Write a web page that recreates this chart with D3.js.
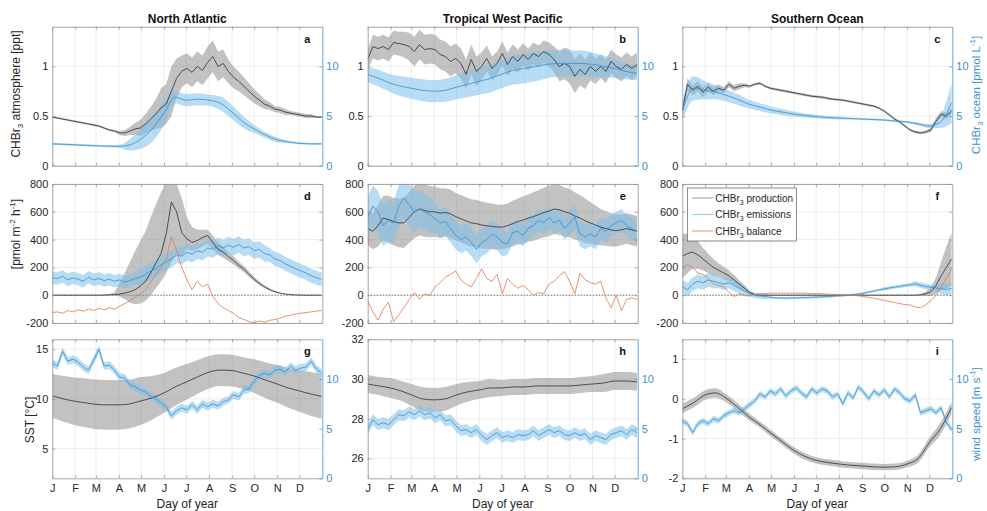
<!DOCTYPE html>
<html><head><meta charset="utf-8">
<script src="https://cdn.jsdelivr.net/npm/d3@7"></script>
<style>
body{margin:0;background:#fff}
svg text{font-family:"Liberation Sans",Arial,Helvetica,sans-serif}
</style>
</head><body>
<svg id="chart" width="987" height="511"></svg>
<script>
// ---------- x categories ----------
const monthLabels = ["J","F","M","A","M","J","J","A","S","O","N","D"];
const monthStart  = [1,32,60,91,121,152,182,213,244,274,305,335];
// weekly sampling days
const dayW = [1,8,15,22,29,36,43,50,57,64,71,78,85,92,99,106,113,120,127,134,141,148,155,162,169,176,183,190,197,204,211,218,225,232,239,246,253,260,267,274,281,288,295,302,309,316,323,330,337,344,351,358,365];
// semi-monthly sampling days
const dayS = [1,16,32,46,60,75,91,106,121,136,152,167,182,197,213,228,244,259,274,289,305,320,335,350,365];

// ---------- a: North Atlantic, concentrations ----------
const aAtm   = [0.49,0.48,0.47,0.46,0.45,0.44,0.43,0.42,0.41,0.40,0.38,0.36,0.35,0.33,0.33,0.35,0.37,0.38,0.42,0.47,0.52,0.58,0.62,0.75,0.88,0.95,0.98,0.94,1.0,0.96,1.04,1.1,1.0,1.03,0.95,0.89,0.85,0.8,0.75,0.7,0.66,0.62,0.6,0.57,0.56,0.54,0.53,0.52,0.51,0.5,0.5,0.49,0.49];
const aAtmSd = [0.01,0.01,0.01,0.01,0.01,0.01,0.01,0.01,0.01,0.01,0.01,0.01,0.01,0.02,0.03,0.04,0.06,0.08,0.1,0.12,0.15,0.2,0.2,0.25,0.2,0.16,0.15,0.15,0.15,0.15,0.16,0.16,0.15,0.14,0.12,0.11,0.1,0.09,0.08,0.07,0.06,0.05,0.04,0.03,0.03,0.03,0.02,0.02,0.02,0.02,0.02,0.01,0.01];
const aOcean   = [2.2,2.15,2.1,2.05,2.0,1.97,1.95,2.1,2.7,3.7,5.3,6.9,6.6,6.7,6.6,6.3,5.4,4.4,3.7,3.1,2.6,2.4,2.25,2.2,2.2];
const aOceanSd = [0.1,0.1,0.1,0.1,0.1,0.1,0.15,0.6,1.0,1.3,1.2,0.6,0.6,0.6,0.55,0.7,0.7,0.6,0.4,0.3,0.25,0.15,0.1,0.1,0.1];

// ---------- b: Tropical West Pacific, concentrations ----------
const bAtm   = [1.07,1.2,1.18,1.2,1.17,1.24,1.23,1.22,1.2,1.15,1.22,1.17,1.18,1.17,1.12,1.1,1.05,1.08,1.03,0.92,1.07,0.95,1.0,1.08,0.98,1.03,1.13,1.02,1.1,1.05,1.12,1.07,1.13,1.1,1.15,1.12,1.07,1.0,1.03,1.0,0.9,0.97,0.92,1.0,0.95,1.0,0.95,1.05,1.0,0.97,1.02,0.98,1.02];
const bAtmSd = [0.1,0.12,0.12,0.12,0.12,0.12,0.12,0.13,0.14,0.15,0.15,0.15,0.15,0.15,0.15,0.15,0.15,0.15,0.15,0.15,0.15,0.15,0.14,0.13,0.12,0.12,0.12,0.12,0.12,0.12,0.11,0.11,0.11,0.11,0.11,0.12,0.13,0.15,0.16,0.17,0.17,0.16,0.15,0.14,0.13,0.12,0.12,0.12,0.12,0.12,0.12,0.12,0.12];
const bOcean   = [9.2,8.8,8.3,8.0,7.8,7.6,7.5,7.6,7.9,8.2,8.5,8.8,9.2,9.6,9.8,10.0,10.2,10.3,10.3,10.3,10.2,10.0,9.8,9.5,9.3];
const bOceanSd = [0.8,0.85,0.9,1.0,1.05,1.1,1.1,1.15,1.2,1.3,1.35,1.4,1.4,1.45,1.5,1.5,1.4,1.35,1.3,1.3,1.2,1.1,0.95,0.8,0.7];

// ---------- c: Southern Ocean, concentrations ----------
const cAtm   = [0.55,0.82,0.76,0.8,0.74,0.79,0.75,0.78,0.76,0.82,0.78,0.8,0.81,0.8,0.82,0.83,0.8,0.78,0.77,0.76,0.75,0.74,0.73,0.72,0.71,0.70,0.695,0.69,0.68,0.67,0.665,0.66,0.65,0.64,0.63,0.62,0.61,0.6,0.58,0.55,0.51,0.47,0.44,0.4,0.36,0.34,0.33,0.34,0.36,0.45,0.52,0.5,0.55];
const cAtmSd = [0.03,0.06,0.05,0.05,0.05,0.04,0.04,0.04,0.03,0.03,0.03,0.03,0.02,0.012,0.012,0.012,0.012,0.012,0.012,0.012,0.012,0.012,0.012,0.012,0.012,0.012,0.012,0.012,0.012,0.012,0.012,0.012,0.012,0.012,0.012,0.012,0.012,0.012,0.012,0.012,0.012,0.012,0.012,0.012,0.012,0.012,0.012,0.015,0.02,0.03,0.03,0.03,0.03];
const cOcean   = [5.5,7.8,7.6,7.4,7.1,6.7,6.2,5.9,5.6,5.4,5.2,5.05,4.95,4.85,4.8,4.75,4.7,4.65,4.6,4.5,4.4,4.2,4.0,4.4,6.3];
const cOceanSd = [1.0,1.2,0.9,0.7,0.6,0.55,0.45,0.4,0.35,0.3,0.25,0.2,0.2,0.15,0.15,0.1,0.1,0.1,0.1,0.1,0.1,0.15,0.2,0.6,2.0];

// ---------- d: North Atlantic, fluxes ----------
const dProd   = [0,0,0,0,0,0,0,0,0,0,1,2,4,8,15,25,40,65,100,160,230,300,440,670,600,450,405,380,393,415,430,380,330,310,277,250,215,188,150,115,85,60,40,25,15,8,4,2,1,0,0,0,0];
const dProdLo = [0,0,0,0,0,0,0,0,0,0,0,0,0,-10,-30,-55,-65,-60,-40,0,50,100,160,240,300,280,330,320,330,350,370,330,290,270,245,220,190,165,130,100,72,50,32,20,12,6,3,1,0,0,0,0,0];
const dProdHi = [0,0,0,0,0,0,0,0,0,0,3,8,20,90,160,240,320,390,460,560,650,740,810,830,800,700,560,490,470,470,470,430,380,350,310,280,240,210,170,130,98,70,48,30,18,10,5,2,1,0,0,0,0];
const dEmis   = [125,120,135,110,125,115,100,130,110,120,105,115,100,110,95,105,120,130,150,175,190,220,240,260,290,280,310,295,320,310,340,330,355,340,360,345,365,340,350,320,330,300,290,260,250,225,210,190,175,160,140,125,115];
const dEmisSd = [45,45,45,45,45,45,45,45,45,45,45,45,45,45,45,45,45,60,60,60,60,60,60,60,60,60,60,60,60,60,60,60,60,60,60,60,60,60,60,60,60,60,50,50,50,50,50,50,50,50,50,50,50];
const dBal    = [-125,-120,-130,-110,-120,-105,-115,-100,-110,-95,-105,-90,-100,-80,-60,-40,-15,10,40,90,150,200,260,420,320,200,110,40,100,60,80,-10,-60,-90,-110,-130,-160,-175,-190,-200,-185,-195,-180,-175,-165,-150,-145,-135,-130,-125,-120,-115,-110];

// ---------- e: Tropical West Pacific, fluxes ----------
const eProd   = [480,460,500,555,545,530,520,520,560,600,620,610,600,600,590,595,585,565,550,535,520,515,505,500,495,490,490,500,515,530,540,555,565,580,595,605,620,615,600,590,570,555,535,520,505,490,480,470,465,470,480,470,460];
const eProdSd = [120,130,150,160,170,170,175,180,185,190,190,190,185,180,180,175,175,170,170,170,170,170,170,165,165,160,160,160,165,165,170,170,175,175,180,180,180,180,175,175,170,165,160,150,140,130,125,120,115,110,110,110,110];
const eEmis   = [560,640,600,500,540,520,640,700,650,600,620,600,580,550,520,530,480,430,400,420,380,330,380,400,440,420,380,370,450,460,430,480,500,540,520,560,520,540,480,520,560,440,420,440,420,480,460,500,520,540,500,480,460];
const eEmisSd = [150,150,150,150,150,150,150,150,150,150,130,130,130,100,100,100,100,100,100,100,100,100,100,100,100,100,100,80,80,80,80,80,80,80,80,80,80,80,80,90,90,90,90,90,90,80,80,80,80,80,80,80,80];
const eBal    = [-40,-120,-180,-100,-50,-190,-140,-90,-30,20,-30,10,0,60,90,130,150,175,110,80,60,120,190,120,100,150,10,120,80,50,70,40,0,20,10,80,100,140,170,100,10,160,110,90,80,100,-20,-90,0,-110,-30,-20,-30];

// ---------- f: Southern Ocean, fluxes ----------
const fProd   = [280,300,310,290,260,230,200,180,160,140,110,80,50,20,5,0,0,0,0,0,0,0,0,0,0,0,0,0,0,0,0,0,0,0,0,0,0,0,0,0,0,0,0,0,0,0,3,10,25,70,140,200,260];
const fProdSd = [160,140,120,100,80,70,60,50,45,40,35,30,20,10,5,0,0,0,0,0,0,0,0,0,0,0,0,0,0,0,0,0,0,0,0,0,0,0,0,0,0,0,0,0,0,2,5,15,30,60,100,150,190];
const fEmis   = [60,40,80,100,90,110,100,90,80,90,70,50,30,10,0,-5,-10,-15,-20,-20,-22,-20,-20,-18,-17,-15,-14,-12,-10,-8,-5,-3,0,3,8,15,22,30,38,45,52,58,63,70,75,82,72,62,57,52,46,42,48];
const fEmisSd = [50,50,50,50,50,50,50,40,40,40,40,40,40,20,20,20,20,8,8,8,8,8,8,8,8,8,8,8,8,8,8,8,8,8,8,8,8,8,8,12,12,12,12,12,12,20,20,20,20,20,40,40,40];
const fBal    = [200,220,200,160,150,120,80,70,60,20,-10,10,0,-5,5,10,12,15,15,15,15,15,15,14,13,12,11,10,8,6,5,3,1,-2,-5,-10,-15,-22,-30,-38,-45,-52,-60,-68,-70,-85,-90,-70,-40,0,60,120,190];

// ---------- g, h, i: SST and wind speed ----------
const gSst    = [10.3,10.0,9.75,9.6,9.45,9.4,9.4,9.5,9.8,10.1,10.6,11.2,11.7,12.2,12.7,12.9,12.85,12.6,12.3,11.9,11.5,11.1,10.8,10.5,10.25];
const gSstSd  = [2.2,2.3,2.4,2.45,2.5,2.5,2.5,2.45,2.4,2.2,2.0,1.9,1.8,1.7,1.65,1.6,1.6,1.6,1.7,1.8,1.9,2.0,2.1,2.2,2.25];
const gWind   = [11.6,11.3,12.8,11.8,12.0,11.7,11.2,10.9,11.9,13.0,11.3,11.4,10.9,10.2,10.1,9.4,9.2,8.9,8.7,8.3,8.0,7.6,7.2,6.3,6.8,7.1,6.9,7.4,6.9,7.5,7.2,7.5,7.3,7.7,7.9,8.4,8.2,8.9,9.0,9.8,10.4,10.6,10.4,10.9,11.0,10.7,11.3,10.9,11.1,11.2,11.8,11.0,10.6];
const gWindSd = 0.4;
const hSst    = [29.75,29.65,29.55,29.4,29.2,29.0,28.95,29.0,29.2,29.35,29.45,29.55,29.55,29.6,29.6,29.65,29.65,29.65,29.65,29.7,29.75,29.8,29.9,29.9,29.85];
const hSstSd  = [0.45,0.45,0.5,0.5,0.55,0.6,0.6,0.6,0.55,0.5,0.45,0.45,0.4,0.4,0.4,0.4,0.4,0.4,0.4,0.4,0.4,0.45,0.45,0.45,0.45];
const hWind   = [4.9,5.9,5.4,5.6,5.4,5.9,6.4,6.3,6.7,6.4,6.8,6.4,6.6,6.1,6.4,5.8,5.9,5.3,4.8,4.9,4.6,4.9,4.3,3.9,4.3,4.6,4.1,4.3,4.1,4.4,4.3,4.4,4.8,4.3,4.6,4.9,4.6,4.8,4.4,4.3,4.6,4.3,4.5,3.9,4.3,4.1,3.9,4.4,4.6,4.8,4.4,4.9,4.6];
const hWindSd = 0.55;
const iSst    = [-0.25,-0.1,0.1,0.15,0.02,-0.2,-0.45,-0.65,-0.87,-1.08,-1.3,-1.45,-1.55,-1.6,-1.64,-1.67,-1.69,-1.71,-1.72,-1.71,-1.64,-1.5,-1.1,-0.75,-0.22];
const iSstSd  = [0.12,0.12,0.12,0.12,0.1,0.1,0.09,0.08,0.08,0.08,0.08,0.08,0.08,0.08,0.08,0.08,0.08,0.08,0.08,0.08,0.08,0.1,0.12,0.15,0.15];
const iWind   = [5.8,5.5,4.6,5.5,5.8,5.5,6.0,5.8,6.3,6.6,6.8,6.6,7.0,7.4,7.8,8.5,8.2,8.8,8.5,9.0,8.3,8.8,9.1,8.6,8.2,9.0,8.6,9.0,8.8,8.2,8.5,7.5,8.6,8.1,9.2,8.7,8.0,8.8,8.4,8.9,8.2,9.0,8.6,8.0,7.8,8.4,6.6,6.8,7.0,6.6,7.1,5.6,5.0];
const iWindSd = 0.3;

// ---------- tick labels ----------
const concTicksL = [0,0.5,1], concTicksR = [0,5,10];
const fluxTicks = [-200,0,200,400,600,800];
const windTicks = [0,5,10];
const regionTitles = ["North Atlantic","Tropical West Pacific","Southern Ocean"];
const legendLabels = ["production","emissions","balance"];

// ---------- styles ----------
const C = {
  line:'#383838', band:'#8a8a8a', blue:'#3d91cd', blueBand:'#7cc0ea', orange:'#e27f58',
  grid:'#e9e9e9', axis:'#8f8f8f', text:'#262626'
};
const W = 987, H = 511;
const colX = [52.3, 367.7, 682.3], rowY = [26.7, 184, 339.3], PW = 270, PH = 139;
const svg = d3.select('#chart');
const defs = svg.append('defs');

function S(days, mean, sd, axis, kind, opt){ return Object.assign({days, mean, sd, axis, kind}, opt||{}); }

const panels = [
  {col:0,row:0,letter:'a',left:[0,1.4],lt:concTicksL,right:[0,14],rt:concTicksR,series:[
    S(dayW,aAtm,aAtmSd,'L','gray'), S(dayS,aOcean,aOceanSd,'R','blue',{smooth:true})]},
  {col:1,row:0,letter:'b',left:[0,1.4],lt:concTicksL,right:[0,14],rt:concTicksR,series:[
    S(dayW,bAtm,bAtmSd,'L','gray'), S(dayS,bOcean,bOceanSd,'R','blue',{smooth:true})]},
  {col:2,row:0,letter:'c',left:[0,1.4],lt:concTicksL,right:[0,14],rt:concTicksR,series:[
    S(dayW,cAtm,cAtmSd,'L','gray'), S(dayS,cOcean,cOceanSd,'R','blue',{smooth:true})]},
  {col:0,row:1,letter:'d',left:[-200,800],lt:fluxTicks,zero:true,series:[
    S(dayW,dProd,null,'L','gray',{lo:dProdLo,hi:dProdHi}), S(dayW,dEmis,dEmisSd,'L','blue'), S(dayW,dBal,null,'L','orange')]},
  {col:1,row:1,letter:'e',left:[-200,800],lt:fluxTicks,zero:true,series:[
    S(dayW,eProd,eProdSd,'L','gray'), S(dayW,eEmis,eEmisSd,'L','blue'), S(dayW,eBal,null,'L','orange')]},
  {col:2,row:1,letter:'f',left:[-200,800],lt:fluxTicks,zero:true,legend:true,series:[
    S(dayW,fProd,fProdSd,'L','gray'), S(dayW,fEmis,fEmisSd,'L','blue'), S(dayW,fBal,null,'L','orange')]},
  {col:0,row:2,letter:'g',left:[2,16],lt:[5,10,15],right:[0,14],rt:windTicks,xlab:true,series:[
    S(dayS,gSst,gSstSd,'L','gray',{smooth:true}), S(dayW,gWind,gWindSd,'R','blue')]},
  {col:1,row:2,letter:'h',left:[25,32],lt:[26,28,30,32],right:[0,14],rt:windTicks,xlab:true,series:[
    S(dayS,hSst,hSstSd,'L','gray',{smooth:true}), S(dayW,hWind,hWindSd,'R','blue')]},
  {col:2,row:2,letter:'i',left:[-2,1.5],lt:[-2,-1,0,1],right:[0,14],rt:windTicks,xlab:true,series:[
    S(dayS,iSst,iSstSd,'L','gray',{smooth:true}), S(dayW,iWind,iWindSd,'R','blue')]}
];

function sdAt(sd,i){ return sd==null ? 0 : (Array.isArray(sd) ? sd[i] : sd); }

panels.forEach(p => {
  const g = svg.append('g').attr('transform',`translate(${colX[p.col]},${rowY[p.row]})`);
  const x = d3.scaleLinear().domain([1,366]).range([0,PW]);
  const yL = d3.scaleLinear().domain(p.left).range([PH,0]);
  const yR = p.right ? d3.scaleLinear().domain(p.right).range([PH,0]) : null;

  // grid
  g.append('g').selectAll('line').data(monthStart.slice(1)).join('line')
    .attr('x1',d=>x(d)).attr('x2',d=>x(d)).attr('y1',0).attr('y2',PH)
    .attr('stroke',C.grid).attr('stroke-width',0.8);
  g.append('g').selectAll('line').data(p.lt).join('line')
    .attr('x1',0).attr('x2',PW).attr('y1',d=>yL(d)).attr('y2',d=>yL(d))
    .attr('stroke',C.grid).attr('stroke-width',0.8);

  const cid = 'clip-'+p.letter;
  defs.append('clipPath').attr('id',cid).append('rect').attr('x',0).attr('y',0).attr('width',PW).attr('height',PH);
  const plot = g.append('g').attr('clip-path',`url(#${cid})`);

  if (p.zero) plot.append('line').attr('x1',0).attr('x2',PW).attr('y1',yL(0)).attr('y2',yL(0))
    .attr('stroke','#222').attr('stroke-width',0.6).attr('stroke-dasharray','1.5,1.5');

  const built = p.series.map(s => {
    const yy = s.axis==='R' ? yR : yL;
    const pts = s.days.map((d,i)=>({
      d, m:s.mean[i],
      lo: s.lo ? s.lo[i] : s.mean[i]-sdAt(s.sd,i),
      hi: s.hi ? s.hi[i] : s.mean[i]+sdAt(s.sd,i)
    }));
    const curve = s.smooth ? d3.curveMonotoneX : d3.curveLinear;
    return {s, yy, pts, curve};
  });
  // bands
  built.forEach(b => {
    if (b.s.kind==='orange') return;
    plot.append('path').datum(b.pts)
      .attr('d', d3.area().x(q=>x(q.d)).y0(q=>b.yy(q.lo)).y1(q=>b.yy(q.hi)).curve(b.curve))
      .attr('fill', b.s.kind==='gray' ? C.band : C.blueBand)
      .attr('fill-opacity', b.s.kind==='gray' ? 0.52 : 0.55)
      .attr('stroke','none');
  });
  // lines
  built.forEach(b => {
    const col = b.s.kind==='gray' ? C.line : (b.s.kind==='blue' ? C.blue : C.orange);
    plot.append('path').datum(b.pts)
      .attr('d', d3.line().x(q=>x(q.d)).y(q=>b.yy(q.m)).curve(b.curve))
      .attr('fill','none').attr('stroke',col).attr('stroke-width',0.85).attr('stroke-linejoin','round');
  });

  // axes
  const fmt = d => String(d);
  const ax = g.append('g');
  const styleAxis = (sel, color, labelColor) => {
    sel.select('.domain').attr('stroke',color).attr('stroke-width',0.8);
    sel.selectAll('.tick line').attr('stroke',color).attr('stroke-width',0.7);
    sel.selectAll('.tick text').attr('fill',labelColor).attr('font-size',11).attr('font-family','"Liberation Sans",Arial,sans-serif');
  };
  const bottom = ax.append('g').attr('transform',`translate(0,${PH})`)
    .call(d3.axisBottom(x).tickValues(monthStart).tickSizeInner(-3).tickSizeOuter(0).tickPadding(6)
      .tickFormat((d,i)=> p.xlab ? monthLabels[i] : ''));
  styleAxis(bottom, C.axis, C.text);
  const top = ax.append('g').call(d3.axisTop(x).tickValues(monthStart).tickSizeInner(-3).tickSizeOuter(0).tickFormat(''));
  styleAxis(top, C.axis, C.text);
  const left = ax.append('g').call(d3.axisLeft(yL).tickValues(p.lt).tickSizeInner(-3).tickSizeOuter(0).tickPadding(4).tickFormat(fmt));
  styleAxis(left, C.axis, C.text);
  if (yR) {
    const right = ax.append('g').attr('transform',`translate(${PW},0)`)
      .call(d3.axisRight(yR).tickValues(p.rt).tickSizeInner(-3).tickSizeOuter(0).tickPadding(4).tickFormat(fmt));
    styleAxis(right, C.blue, C.blue);
  } else {
    const right = ax.append('g').attr('transform',`translate(${PW},0)`)
      .call(d3.axisRight(yL).tickValues(p.lt).tickSizeInner(-3).tickSizeOuter(0).tickFormat(''));
    styleAxis(right, C.axis, C.text);
  }
  if (p.xlab) {
    g.append('text').attr('x',PW/2).attr('y',PH+30).attr('text-anchor','middle')
      .attr('font-size',12).attr('fill',C.text).text('Day of year');
  }
  g.append('text').attr('x',PW-15).attr('y',16).attr('text-anchor','middle')
    .attr('font-size',11).attr('font-weight','bold').attr('fill','#111').text(p.letter);

  if (p.row===0) {
    g.append('text').attr('x',PW/2).attr('y',-4).attr('text-anchor','middle')
      .attr('font-size',12).attr('font-weight','bold').attr('fill','#111').text(regionTitles[p.col]);
  }

  if (p.legend) {
    const lg = g.append('g').attr('transform','translate(5,4)');
    lg.append('rect').attr('width',109).attr('height',53).attr('fill','#fff').attr('stroke','#555').attr('stroke-width',0.7);
    const lc = ['#a9a9a9','#9fd0ef','#eca384'];
    legendLabels.forEach((t,i)=>{
      const yy = 10 + i*16.5;
      lg.append('line').attr('x1',5).attr('x2',26).attr('y1',yy).attr('y2',yy).attr('stroke',lc[i]).attr('stroke-width',1.2);
      const tx = lg.append('text').attr('x',28).attr('y',yy+3.5).attr('font-size',10).attr('fill',C.text);
      tx.append('tspan').text('CHBr');
      tx.append('tspan').attr('dy',3).attr('font-size',7).text('3');
      tx.append('tspan').attr('dy',-3).text(' '+t);
    });
  }
});

// axis titles
function rotLabel(xp, yp, parts, color, size){
  const t = svg.append('text').attr('transform',`translate(${xp},${yp}) rotate(-90)`)
    .attr('text-anchor','middle').attr('font-size',size||12).attr('fill',color);
  parts.forEach(pt => {
    const ts = t.append('tspan').text(pt.t);
    if (pt.sub) ts.attr('dy',3).attr('font-size',8);
    if (pt.sup) ts.attr('dy',-5).attr('font-size',8);
    if (pt.back) ts.attr('dy',pt.back);
  });
}
rotLabel(20, 94, [{t:'CHBr'},{t:'3',sub:true},{t:' atmosphere [ppt]',back:-3}], C.text);
rotLabel(20, 234, [{t:'[pmol m'},{t:'-2',sup:true},{t:' h',back:5},{t:'-1',sup:true},{t:']',back:5}], C.text);
rotLabel(34, 420, [{t:'SST [°C]'}], C.text);
rotLabel(980, 95, [{t:'CHBr'},{t:'3',sub:true},{t:' ocean [pmol L',back:-3},{t:'-1',sup:true},{t:']',back:5}], C.blue, 11.5);
rotLabel(980, 414, [{t:'wind speed [m s'},{t:'-1',sup:true},{t:']',back:5}], C.blue, 11.5);

// sanity check
panels.forEach(p=>p.series.forEach(s=>{ if(s.mean.length!==s.days.length) console.warn('length mismatch',p.letter); }));
</script>
</body></html>
